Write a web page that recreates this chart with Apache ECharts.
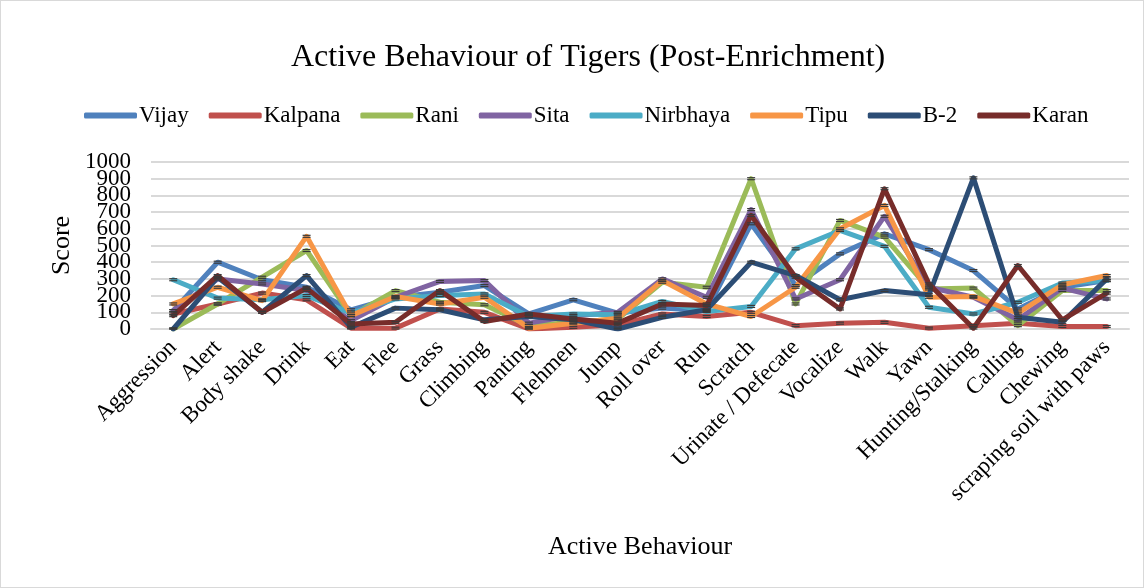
<!DOCTYPE html>
<html>
<head>
<meta charset="utf-8">
<script src="https://cdn.jsdelivr.net/npm/echarts@6/dist/echarts.min.js"></script>
<style>
  html, body { margin: 0; padding: 0; background: #fff; }
  #chart { width: 1142px; height: 586px; border: 1px solid #d9d9d9; }
</style>
</head>
<body>
<div id="chart"></div>
<script>
// Behaviour categories along the x axis
const behaviours = ['Aggression', 'Alert', 'Body shake', 'Drink', 'Eat', 'Flee', 'Grass', 'Climbing',
  'Panting', 'Flehmen', 'Jump', 'Roll over', 'Run', 'Scratch', 'Urinate / Defecate', 'Vocalize',
  'Walk', 'Yawn', 'Hunting/Stalking', 'Calling', 'Chewing', 'scraping soil with paws'];

// Scores per tiger, one value per behaviour
const vijay     = [110, 400, 295, 250, 115, 190, 220, 260, 90, 175, 95, 125, 110, 630, 260, 450, 570, 475, 350, 120, 250, 290];
const kalpana   = [90, 150, 215, 175, 5, 5, 120, 100, 0, 10, 25, 90, 75, 100, 20, 35, 40, 5, 20, 35, 15, 15];
const rani      = [0, 150, 310, 470, 80, 230, 160, 145, 20, 40, 60, 280, 250, 900, 150, 650, 550, 240, 245, 20, 230, 230];
const sita      = [110, 300, 270, 230, 50, 190, 285, 290, 35, 80, 100, 300, 190, 715, 180, 295, 675, 250, 190, 55, 245, 180];
const nirbhaya  = [295, 185, 175, 200, 95, 180, 200, 210, 75, 90, 85, 165, 105, 135, 480, 590, 495, 130, 90, 160, 275, 290];
const tipu      = [150, 250, 170, 555, 80, 195, 150, 190, 5, 35, 65, 290, 150, 75, 250, 600, 740, 190, 195, 95, 265, 320];
const b2        = [0, 310, 100, 320, 10, 125, 115, 55, 75, 55, 0, 70, 115, 400, 320, 175, 230, 205, 905, 70, 40, 300];
const karan     = [80, 320, 100, 245, 30, 40, 230, 45, 90, 60, 35, 150, 140, 680, 310, 120, 840, 270, 5, 380, 55, 215];

const tigers = [
  { name: 'Vijay', data: vijay, color: '#4F81BD' },
  { name: 'Kalpana', data: kalpana, color: '#C0504D' },
  { name: 'Rani', data: rani, color: '#9BBB59' },
  { name: 'Sita', data: sita, color: '#8064A2' },
  { name: 'Nirbhaya', data: nirbhaya, color: '#4BACC6' },
  { name: 'Tipu', data: tipu, color: '#F79646' },
  { name: 'B-2', data: b2, color: '#2C4D75' },
  { name: 'Karan', data: karan, color: '#772C2A' }
];

// Y axis tick values
const yTicks = [0, 100, 200, 300, 400, 500, 600, 700, 800, 900, 1000];

const serif = '"Liberation Serif", "Times New Roman", serif';
const errHalf = 6; // half-height of the small error caps, in score units

const series = [];
tigers.forEach((t, i) => {
  series.push({
    name: t.name,
    type: 'line',
    data: t.data,
    showSymbol: false,
    symbol: 'none',
    lineStyle: { width: 5, color: t.color, cap: 'round', join: 'round' },
    itemStyle: { color: t.color },
    z: 2 + i,
    animation: false
  });
});
// Error caps drawn at every point of every series
tigers.forEach((t) => {
  series.push({
    type: 'custom',
    name: t.name,
    data: t.data.map((v, k) => [k, v]),
    z: 20,
    silent: true,
    animation: false,
    renderItem: function (params, api) {
      const x = api.value(0), v = api.value(1);
      const top = api.coord([x, v + errHalf]);
      const bot = api.coord([x, Math.max(0, v - errHalf)]);
      const hw = 4;
      const st = { stroke: '#3a3a3a', lineWidth: 1.2 };
      return {
        type: 'group',
        children: [
          { type: 'line', shape: { x1: top[0] - hw, y1: top[1], x2: top[0] + hw, y2: top[1] }, style: st },
          { type: 'line', shape: { x1: bot[0] - hw, y1: bot[1], x2: bot[0] + hw, y2: bot[1] }, style: st }
        ]
      };
    }
  });
});
// Y tick labels: the ticks sit closer than the text height, so every label is
// placed at its tick through the value scale instead of relying on auto layout
series.push({
  type: 'custom',
  data: yTicks.map(v => [0, v]),
  silent: true,
  clip: false,
  animation: false,
  z: 30,
  renderItem: function (params, api) {
    const p = api.coord([0, api.value(1)]);
    return {
      type: 'text',
      x: params.coordSys.x - 20,
      y: p[1],
      style: {
        text: String(api.value(1)),
        align: 'right',
        verticalAlign: 'middle',
        font: '23px ' + serif,
        fill: '#000'
      }
    };
  }
});

const chart = echarts.init(document.getElementById('chart'), null, { renderer: 'canvas' });
chart.setOption({
  backgroundColor: '#ffffff',
  animation: false,
  title: {
    text: 'Active Behaviour of Tigers (Post-Enrichment)',
    left: 285,
    top: 36,
    textStyle: { fontFamily: serif, fontSize: 32, fontWeight: 'normal', color: '#000' }
  },
  legend: {
    data: tigers.map(t => t.name),
    top: 98,
    left: 78,
    itemWidth: 53,
    itemHeight: 6,
    itemGap: 20,
    icon: 'roundRect',
    textStyle: { fontFamily: serif, fontSize: 23, color: '#000', padding: [0, 0, 0, -3] }
  },
  grid: { left: 150, right: 14, top: 161, bottom: 258, containLabel: false },
  xAxis: {
    type: 'category',
    data: behaviours,
    boundaryGap: true,
    name: 'Active Behaviour',
    nameLocation: 'middle',
    nameGap: 205,
    nameTextStyle: { fontFamily: serif, fontSize: 26, color: '#000' },
    axisLine: { lineStyle: { color: '#d9d9d9', width: 2 } },
    axisTick: { show: false },
    axisLabel: { rotate: 45, interval: 0, margin: 15, fontFamily: serif, fontSize: 23, color: '#000' }
  },
  yAxis: {
    type: 'value',
    min: yTicks[0],
    max: yTicks[yTicks.length - 1],
    interval: yTicks[1] - yTicks[0],
    name: 'Score',
    nameLocation: 'middle',
    nameGap: 76,
    nameTextStyle: { fontFamily: serif, fontSize: 26, color: '#000' },
    axisLine: { show: false },
    axisTick: { show: false },
    splitLine: { lineStyle: { color: '#d9d9d9', width: 2 } },
    axisLabel: { show: false }
  },
  series: series
});
</script>
</body>
</html>
